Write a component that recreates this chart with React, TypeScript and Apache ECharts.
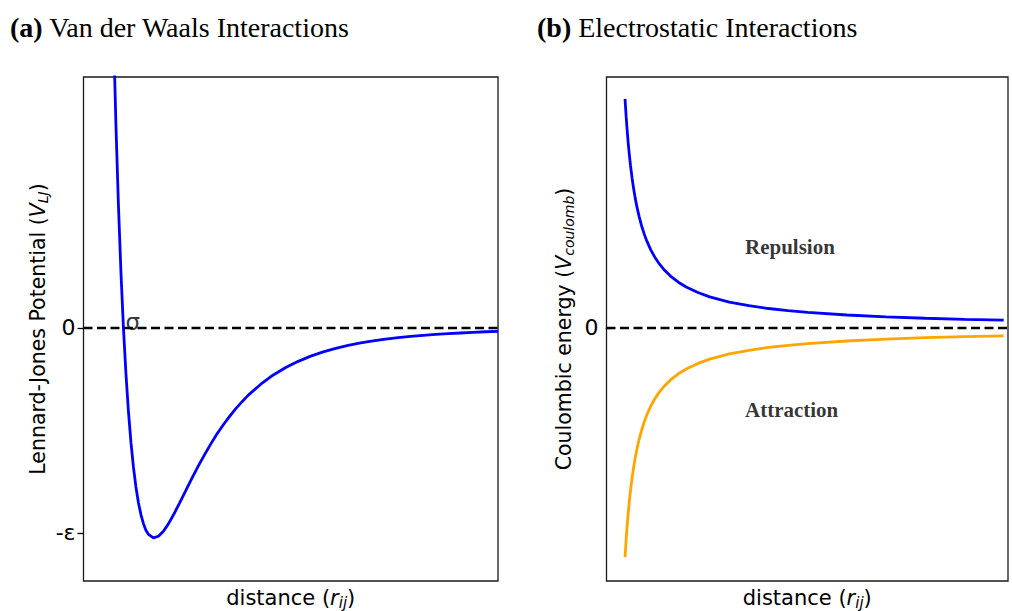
import React, { useEffect, useRef } from "react";
import * as echarts from "echarts";

// Lennard-Jones potential, r in units of sigma, V in units of epsilon
const ljR = [0.955, 0.96, 0.97, 0.98, 0.99, 1.0, 1.01, 1.02, 1.03, 1.04, 1.05, 1.06, 1.07, 1.08, 1.09, 1.1, 1.12, 1.14, 1.16, 1.18, 1.2, 1.225, 1.25, 1.275, 1.3, 1.325, 1.35, 1.375, 1.4, 1.425, 1.45, 1.475, 1.5, 1.55, 1.6, 1.65, 1.7, 1.75, 1.8, 1.85, 1.9, 1.95, 2.0, 2.05, 2.1, 2.15, 2.2, 2.25, 2.3, 2.35, 2.4, 2.45, 2.5];
const ljV = [1.678, 1.418, 0.963, 0.582, 0.264, 0, -0.218, -0.398, -0.544, -0.663, -0.757, -0.832, -0.889, -0.932, -0.963, -0.983, -1.0, -0.992, -0.968, -0.933, -0.891, -0.833, -0.774, -0.714, -0.657, -0.603, -0.552, -0.504, -0.461, -0.421, -0.384, -0.351, -0.32, -0.268, -0.224, -0.188, -0.159, -0.134, -0.114, -0.097, -0.083, -0.071, -0.0615, -0.053, -0.046, -0.04, -0.035, -0.031, -0.027, -0.024, -0.021, -0.018, -0.016];

// Coulomb energy of like and unlike charges
const coulombR = [0.34, 0.35, 0.37, 0.39, 0.42, 0.45, 0.48, 0.52, 0.56, 0.6, 0.65, 0.7, 0.76, 0.83, 0.9, 1.0, 1.1, 1.2, 1.35, 1.5, 1.7, 1.9, 2.2, 2.5, 3.0, 3.5, 4.0, 4.5, 5.0, 6.0, 7.0, 8.0, 9.0, 10.0];
const repulsion = [2.941, 2.857, 2.703, 2.564, 2.381, 2.222, 2.083, 1.923, 1.786, 1.667, 1.538, 1.429, 1.316, 1.205, 1.111, 1.0, 0.909, 0.833, 0.741, 0.667, 0.588, 0.526, 0.455, 0.4, 0.333, 0.286, 0.25, 0.222, 0.2, 0.167, 0.143, 0.125, 0.111, 0.1];
const attraction = [-2.941, -2.857, -2.703, -2.564, -2.381, -2.222, -2.083, -1.923, -1.786, -1.667, -1.538, -1.429, -1.316, -1.205, -1.111, -1.0, -0.909, -0.833, -0.741, -0.667, -0.588, -0.526, -0.455, -0.4, -0.333, -0.286, -0.25, -0.222, -0.2, -0.167, -0.143, -0.125, -0.111, -0.1];

// y tick positions and their labels
const ljTickValues = [0, -0.976];
const ljTickLabels = ["0", "-ε"];
const coulombTickValues = [0];
const coulombTickLabels = ["0"];

const panelTitles = ["(a)", "Van der Waals Interactions", "(b)", "Electrostatic Interactions"];
const regionNames = ["Repulsion", "Attraction"];

const SANS = "DejaVu Sans";
const SERIF = "Liberation Serif";

function nameStyleOf(size: number) {
  const sub = Math.round(size * 0.7);
  return {
    fontFamily: SANS,
    fontSize: size,
    lineHeight: size + 2,
    color: "#000",
    rich: {
      i: { fontFamily: SANS, fontStyle: "italic", fontSize: size, lineHeight: size + 2, color: "#000" },
      s: { fontFamily: SANS, fontStyle: "italic", fontSize: sub, lineHeight: sub + 1, padding: [10, 0, 0, 0], color: "#000" },
    },
  };
}

const zip = (xs: number[], ys: number[]) => xs.map((x, k) => [x, ys[k]]);

function xAxisOf(gridIndex: number, min: number, max: number) {
  return {
    type: "value",
    gridIndex,
    min,
    max,
    axisLine: { show: false },
    axisTick: { show: false },
    axisLabel: { show: false },
    splitLine: { show: false },
    name: "distance ({i|r}{s|ij})",
    nameLocation: "middle",
    nameGap: 5,
    nameTextStyle: nameStyleOf(21),
  };
}

function yAxisOf(gridIndex: number, min: number, max: number, ticks: number[], labels: string[], name: string, gap: number) {
  return {
    type: "value",
    gridIndex,
    min,
    max,
    axisLine: { show: false },
    splitLine: { show: false },
    axisTick: { show: true, length: 6, customValues: ticks, lineStyle: { color: "#000", width: 1.3 } },
    axisLabel: {
      show: true,
      customValues: ticks,
      formatter: (v: number) => {
        const k = ticks.findIndex((t) => Math.abs(t - v) < 1e-9);
        return k >= 0 ? labels[k] : "";
      },
      fontFamily: SANS,
      fontSize: 22,
      color: "#000",
      margin: 8,
    },
    name,
    nameLocation: "middle",
    nameRotate: 90,
    nameGap: gap,
    nameTextStyle: nameStyleOf(20.5),
  };
}

function zeroLine(axisIndex: number, x0: number, x1: number) {
  return {
    type: "line",
    xAxisIndex: axisIndex,
    yAxisIndex: axisIndex,
    data: [[x0, 0], [x1, 0]],
    symbol: "none",
    silent: true,
    z: 3,
    lineStyle: { color: "#000", width: 2.4, type: [9, 4.5] },
  };
}

function textMark(axisIndex: number, x: number, y: number, text: string, label: object) {
  return {
    type: "scatter",
    xAxisIndex: axisIndex,
    yAxisIndex: axisIndex,
    data: [[x, y]],
    symbolSize: 0,
    silent: true,
    z: 4,
    label: { show: true, formatter: text, color: "#000", ...label },
  };
}

export default function App() {
  const ref = useRef<HTMLDivElement>(null);

  useEffect(() => {
    document.body.style.margin = "0";
    if (!ref.current) return;
    const chart = echarts.init(ref.current, undefined, { renderer: "svg" });

    const titleStyle = {
      fontFamily: SERIF,
      fontSize: 28,
      fontWeight: "normal",
      color: "#000",
      lineHeight: 30,
      rich: { b: { fontFamily: SERIF, fontSize: 28, fontWeight: "bold", color: "#000", lineHeight: 30 } },
    };

    const gridBase = { top: 77, height: 504, show: true, borderColor: "#1a1a1a", borderWidth: 1.3, backgroundColor: "transparent", containLabel: false, outerBoundsMode: "none" };

    chart.setOption({
      animation: false,
      backgroundColor: "#fff",
      title: [
        { text: `{b|${panelTitles[0]}} ${panelTitles[1]}`, left: 10, top: 12, padding: 0, textStyle: titleStyle },
        { text: `{b|${panelTitles[2]}} ${panelTitles[3]}`, left: 537, top: 12, padding: 0, textStyle: titleStyle },
      ],
      grid: [
        { ...gridBase, left: 83.5, width: 414.5 },
        { ...gridBase, left: 606.5, width: 401.5 },
      ],
      xAxis: [xAxisOf(0, 0.84, 2.5), xAxisOf(1, -0.133, 10.11)],
      yAxis: [
        yAxisOf(0, -1.205, 1.195, ljTickValues, ljTickLabels, "Lennard-Jones Potential ({i|V}{s|LJ})", 34),
        yAxisOf(1, -3.248, 3.222, coulombTickValues, coulombTickLabels, "Coulombic energy ({i|V}{s|coulomb})", 31),
      ],
      series: [
        {
          type: "line",
          xAxisIndex: 0,
          yAxisIndex: 0,
          data: zip(ljR, ljV),
          symbol: "none",
          clip: true,
          z: 2,
          lineStyle: { color: "#0000ff", width: 2.8 },
        },
        zeroLine(0, 0.84, 2.5),
        textMark(0, 1.0, 0, "σ", { position: "top", align: "left", verticalAlign: "bottom", distance: 0, offset: [2, 6], fontFamily: SANS, fontSize: 23 }),
        {
          type: "line",
          xAxisIndex: 1,
          yAxisIndex: 1,
          data: zip(coulombR, repulsion),
          symbol: "none",
          z: 2,
          lineStyle: { color: "#0000ff", width: 2.8 },
        },
        {
          type: "line",
          xAxisIndex: 1,
          yAxisIndex: 1,
          data: zip(coulombR, attraction),
          symbol: "none",
          z: 2,
          lineStyle: { color: "#ffa500", width: 2.8 },
        },
        zeroLine(1, -0.133, 10.11),
        textMark(1, 3.4, 1.04, regionNames[0], { position: "right", distance: 0, fontFamily: SERIF, fontWeight: "bold", fontSize: 21 }),
        textMark(1, 3.4, -1.053, regionNames[1], { position: "right", distance: 0, fontFamily: SERIF, fontWeight: "bold", fontSize: 21 }),
      ],
    });

    return () => chart.dispose();
  }, []);

  return <div ref={ref} style={{ width: 1012, height: 611 }} />;
}
